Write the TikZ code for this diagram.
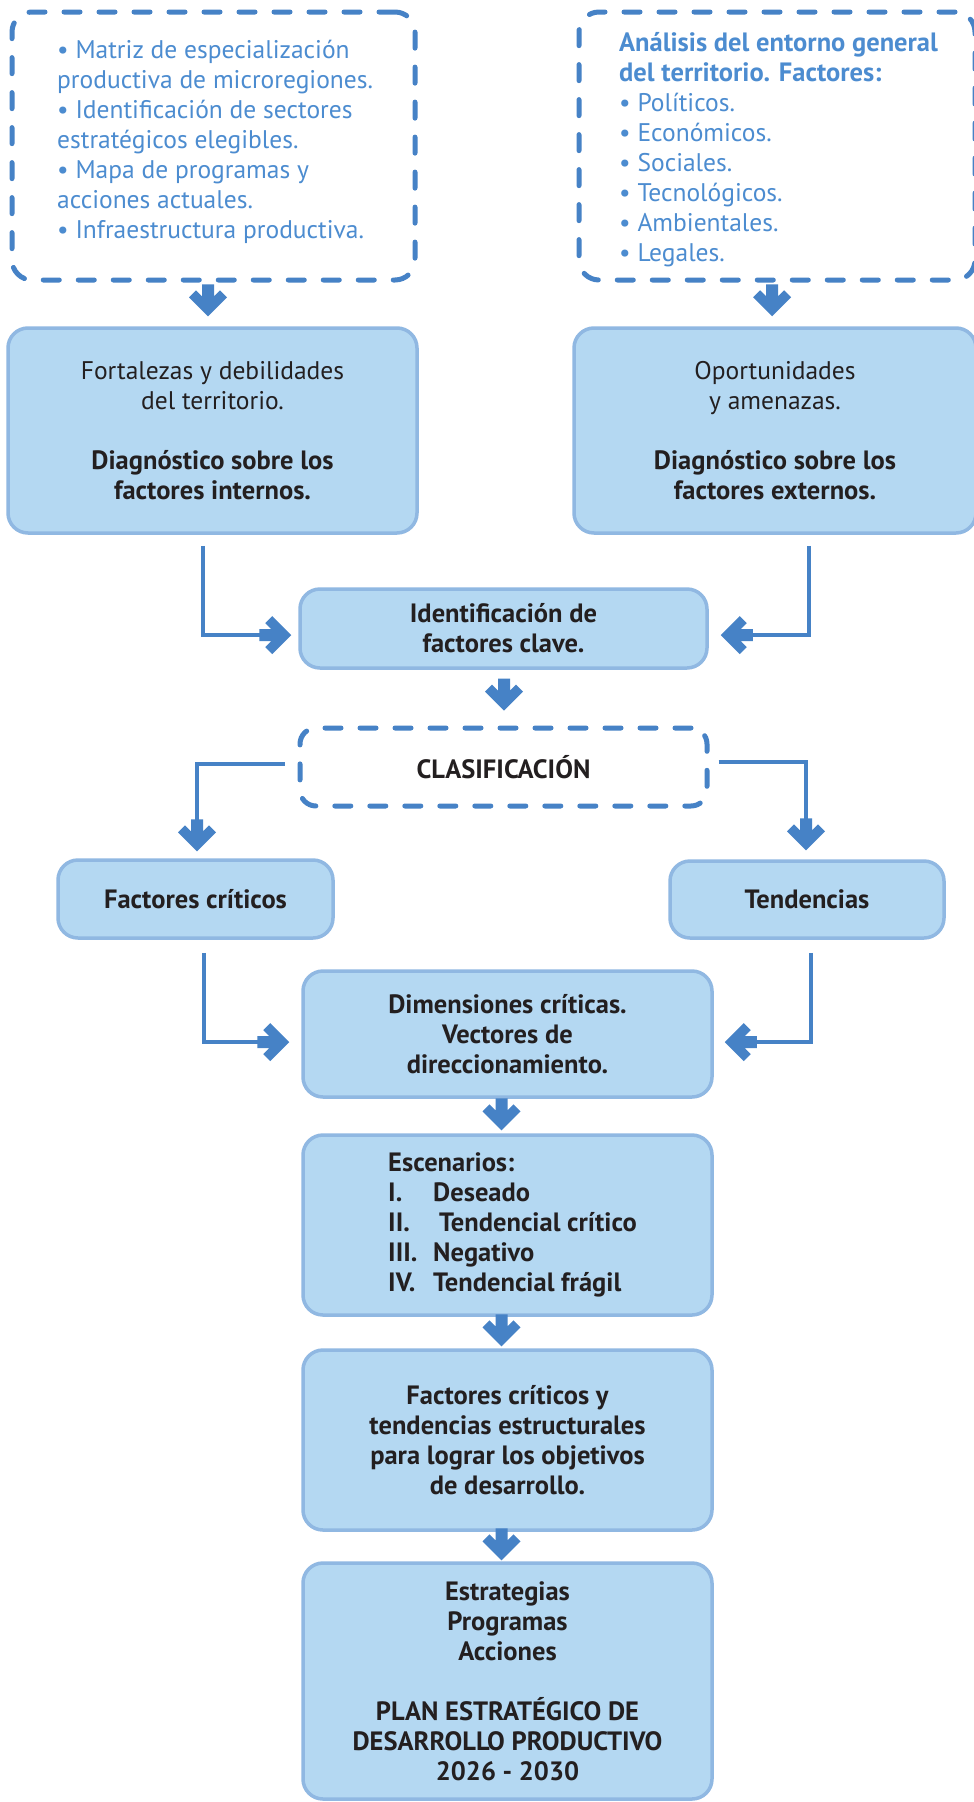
\documentclass[tikz,border=0pt]{standalone}
\usepackage{fontspec}
\setmainfont{PT Sans}
\usetikzlibrary{arrows.meta}
\definecolor{dblue}{HTML}{4682C6}
\definecolor{tblue}{HTML}{4C8CD0}
\definecolor{boxfill}{HTML}{B4D8F2}
\definecolor{boxedge}{HTML}{90B8E2}
\definecolor{txt}{HTML}{231F20}

\pgfdeclarearrow{
  name = BlockTip,
  setup code = {
    \pgfarrowssettipend{0pt}
    \pgfarrowssetbackend{-32pt}
    \pgfarrowssetvisualbackend{-32pt}
    \pgfarrowssetlineend{-22pt}
  },
  drawing code = {
    \pgfpathmoveto{\pgfpoint{0pt}{0pt}}
    \pgfpathlineto{\pgfpoint{-19pt}{19pt}}
    \pgfpathlineto{\pgfpoint{-26pt}{12pt}}
    \pgfpathlineto{\pgfpoint{-20pt}{6pt}}
    \pgfpathlineto{\pgfpoint{-32pt}{6pt}}
    \pgfpathlineto{\pgfpoint{-32pt}{-6pt}}
    \pgfpathlineto{\pgfpoint{-20pt}{-6pt}}
    \pgfpathlineto{\pgfpoint{-26pt}{-12pt}}
    \pgfpathlineto{\pgfpoint{-19pt}{-19pt}}
    \pgfpathclose
    \pgfusepathqfill
  }
}

\newcommand{\regfont}{\fontsize{25.5}{30}\selectfont}
\newcommand{\boldfont}{\fontsize{26.5}{30}\selectfont\bfseries}

\tikzset{
  box/.style={draw=boxedge, line width=3.5pt, fill=boxfill, rounded corners=20pt,
    align=center, text=txt, inner sep=0pt, font=\regfont},
  bbox/.style={box, font=\boldfont},
  dbox/.style={draw=dblue, line width=5pt, dash pattern=on 16pt off 19pt,
    line cap=round, rounded corners=20pt, inner sep=0pt},
  toptext/.style={text=tblue, align=left, inner sep=0pt, font=\regfont},
  conn/.style={draw=dblue, line width=4pt, -{BlockTip[fill=dblue]}},
}

\begin{document}
\begin{tikzpicture}[x=1pt,y=-1pt]
\useasboundingbox (0,0) rectangle (974,1802);
\clip (0,0) rectangle (974,1802);
\fill[white] (0,0) rectangle (974,1802);

% top dashed boxes
\node[dbox, minimum width=403pt, minimum height=268pt] (t1) at (213.5,146) {};
\node[dbox, minimum width=396pt, minimum height=268pt] (t2) at (777,146) {};
\node[toptext, anchor=north west] (t1txt) at (57,40)
  {• Matriz de especialización\\productiva de microregiones.\\• Identificación de sectores\\estratégicos elegibles.\\• Mapa de programas y\\acciones actuales.\\• Infraestructura productiva.};
\node[toptext, anchor=north west] (t2txt) at (619,32)
  {{\boldfont Análisis del entorno general}\\{\boldfont del territorio. Factores:}\\• Políticos.\\• Económicos.\\• Sociales.\\• Tecnológicos.\\• Ambientales.\\• Legales.};

% solid boxes
\node[box, minimum width=409pt, minimum height=205pt] (fort) at (212.5,430.5)
  {Fortalezas y debilidades\\del territorio.\\[30pt]{\boldfont Diagnóstico sobre los}\\{\boldfont factores internos.}};
\node[box, minimum width=402pt, minimum height=205pt] (opor) at (775,430.5)
  {Oportunidades\\y amenazas.\\[30pt]{\boldfont Diagnóstico sobre los}\\{\boldfont factores externos.}};
\node[bbox, minimum width=407pt, minimum height=79pt] (ident) at (503.5,628.5)
  {Identificación de\\factores clave.};
\node[dbox, minimum width=407pt, minimum height=78pt, rounded corners=16pt,
  font=\boldfont, text=txt] (clas) at (503.5,767) {CLASIFICACIÓN};
\node[bbox, minimum width=275pt, minimum height=78pt] (fc) at (195.5,899) {Factores críticos};
\node[bbox, minimum width=274pt, minimum height=77pt] (tend) at (807,899.5) {Tendencias};
\node[bbox, minimum width=409pt, minimum height=126pt] (dim) at (507.5,1034)
  {Dimensiones críticas.\\Vectores de\\direccionamiento.};
\node[bbox, minimum width=409pt, minimum height=180pt] (esc) at (507.5,1225)
  {\hspace*{10pt}\begin{tabular}{@{}l@{}}
   Escenarios:\\
   \makebox[45pt][l]{I.}Deseado\\
   \makebox[45pt][l]{II.}\hspace{6pt}Tendencial crítico\\
   \makebox[45pt][l]{III.}Negativo\\
   \makebox[45pt][l]{IV.}Tendencial frágil
   \end{tabular}};
\node[bbox, minimum width=409pt, minimum height=180pt] (fac2) at (507.5,1440)
  {Factores críticos y\\tendencias estructurales\\para lograr los objetivos\\de desarrollo.};
\node[bbox, minimum width=409pt, minimum height=236pt] (est) at (507.5,1681)
  {Estrategias\\Programas\\Acciones\\[30pt]PLAN ESTRATÉGICO DE\\DESARROLLO PRODUCTIVO\\2026 - 2030};

% straight block arrows
\draw[conn] ([xshift=-5.5pt,yshift=-8pt]t1.south) -- ([xshift=-4.5pt,yshift=10pt]fort.north);
\draw[conn] ([xshift=-5pt,yshift=-8pt]t2.south) -- ([xshift=-3pt,yshift=10pt]opor.north);
\draw[conn] ([xshift=0.5pt,yshift=-13pt]ident.south) -- ([xshift=0.5pt,yshift=15pt]clas.north);
\draw[conn] ([xshift=-6pt,yshift=-3pt]dim.south) -- ([xshift=-6pt,yshift=3pt]esc.north);
\draw[conn] ([xshift=-6pt,yshift=-2pt]esc.south) -- ([xshift=-6pt,yshift=2pt]fac2.north);
\draw[conn] ([xshift=-6pt]fac2.south) -- ([xshift=-6pt,yshift=1pt]est.north);

% elbow connectors
\draw[conn] ([xshift=-9.5pt,yshift=-11pt]fort.south) |- ([xshift=-7pt,yshift=-6.5pt]ident.west);
\draw[conn] ([xshift=34pt,yshift=-11pt]opor.south) |- ([xshift=12pt,yshift=-6.5pt]ident.east);
\draw[conn] ([xshift=-13pt,yshift=3pt]clas.west) -| ([xshift=1.5pt,yshift=7pt]fc.north);
\draw[conn] ([xshift=9pt,yshift=5pt]clas.east) -| ([xshift=-1pt,yshift=9pt]tend.north);
\draw[conn] ([xshift=8.5pt,yshift=-13pt]fc.south) |- ([xshift=-12pt,yshift=-8pt]dim.west);
\draw[conn] ([xshift=3.5pt,yshift=-13pt]tend.south) |- ([xshift=11pt,yshift=-8pt]dim.east);
\end{tikzpicture}
\end{document}
